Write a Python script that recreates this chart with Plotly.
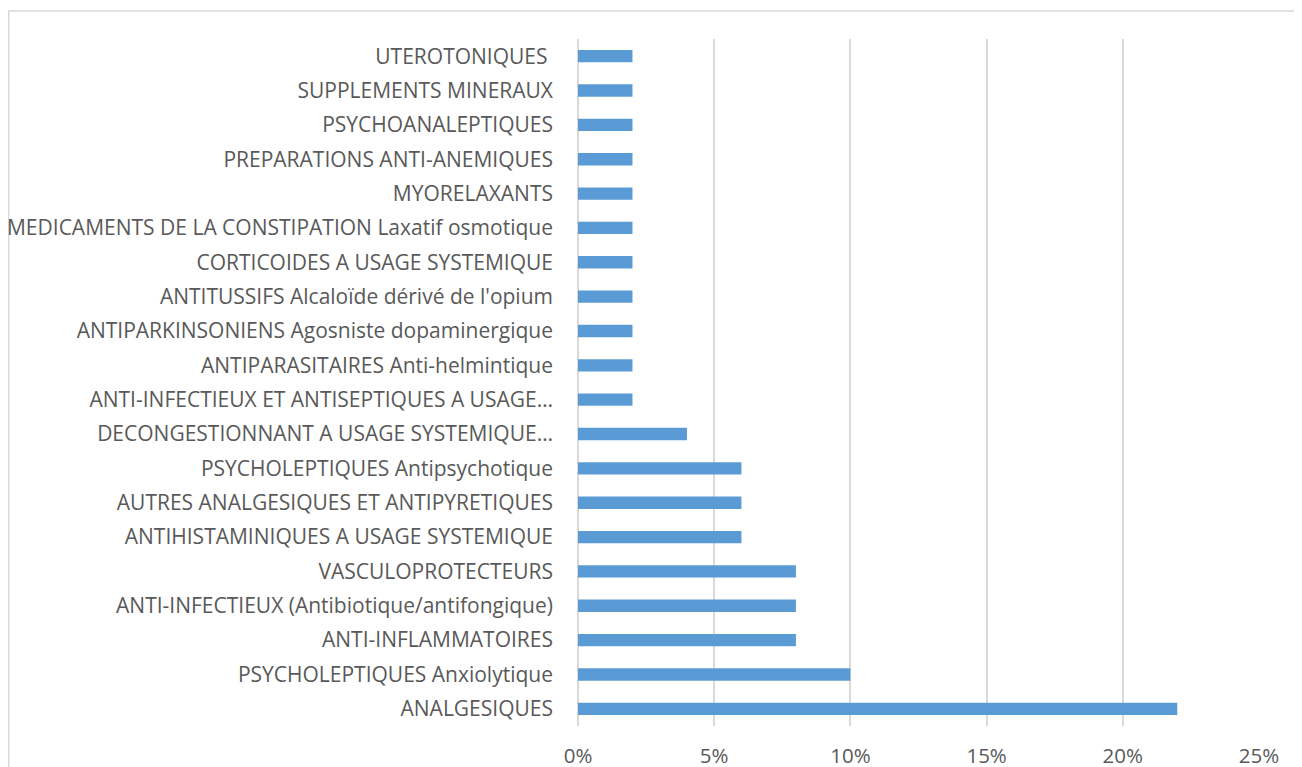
import plotly.graph_objects as go

categories = [
    "ANALGESIQUES",
    "PSYCHOLEPTIQUES Anxiolytique",
    "ANTI-INFLAMMATOIRES",
    "ANTI-INFECTIEUX (Antibiotique/antifongique)",
    "VASCULOPROTECTEURS",
    "ANTIHISTAMINIQUES A USAGE SYSTEMIQUE",
    "AUTRES ANALGESIQUES ET ANTIPYRETIQUES",
    "PSYCHOLEPTIQUES Antipsychotique",
    "DECONGESTIONNANT A USAGE SYSTEMIQUE…",
    "ANTI-INFECTIEUX ET ANTISEPTIQUES A USAGE…",
    "ANTIPARASITAIRES Anti-helmintique",
    "ANTIPARKINSONIENS Agosniste dopaminergique",
    "ANTITUSSIFS Alcaloïde dérivé de l'opium",
    "CORTICOIDES A USAGE SYSTEMIQUE",
    "MEDICAMENTS DE LA CONSTIPATION Laxatif osmotique",
    "MYORELAXANTS",
    "PREPARATIONS ANTI-ANEMIQUES",
    "PSYCHOANALEPTIQUES",
    "SUPPLEMENTS MINERAUX",
    "UTEROTONIQUES ",
]
values = [0.22, 0.10, 0.08, 0.08, 0.08, 0.06, 0.06, 0.06, 0.04,
          0.02, 0.02, 0.02, 0.02, 0.02, 0.02, 0.02, 0.02, 0.02, 0.02, 0.02]
tick_vals = [0, 0.05, 0.10, 0.15, 0.20, 0.25]
tick_text = ["0%", "5%", "10%", "15%", "20%", "25%"]

# the page body has an 8px margin, so the figure starts at (8, 8) on screen
W, H = 1294, 759
L, R, T, B = 570, 43, 31, 41
pw, ph = W - L - R, H - T - B

fig = go.Figure(go.Bar(
    x=values, y=categories, orientation="h",
    marker=dict(color="#5b9bd5", line=dict(width=0)),
    width=0.36,
))

def px_x(p):
    return (p - L) / pw

def px_y(p):
    return (H - B - p) / ph

fig.add_shape(type="rect", xref="paper", yref="paper",
              x0=px_x(0.75), x1=px_x(1287), y0=px_y(800), y1=px_y(3),
              line=dict(color="#d9d9d9", width=1.5), fillcolor="rgba(0,0,0,0)",
              layer="below")

fig.update_layout(
    width=W, height=H,
    margin=dict(l=L, r=R, t=T, b=B, autoexpand=False),
    paper_bgcolor="white", plot_bgcolor="white",
    font=dict(family="Open Sans, Calibri, sans-serif", size=21, color="#595959"),
    showlegend=False,
)
fig.update_xaxes(
    range=[0, 0.25], tickvals=tick_vals, ticktext=tick_text,
    showgrid=True, gridcolor="#d9d9d9", gridwidth=1.5,
    zeroline=True, zerolinecolor="#d9d9d9", zerolinewidth=1.5,
    showline=False, ticks="", ticklabelstandoff=15,
    tickfont=dict(size=20.5, color="#595959"),
)
fig.update_yaxes(
    showgrid=False, zeroline=False, showline=False, ticks="",
    ticklabelstandoff=24, tickfont=dict(size=21, color="#595959"),
    range=[-0.5, 19.5],
)

fig.write_html("out.html")
